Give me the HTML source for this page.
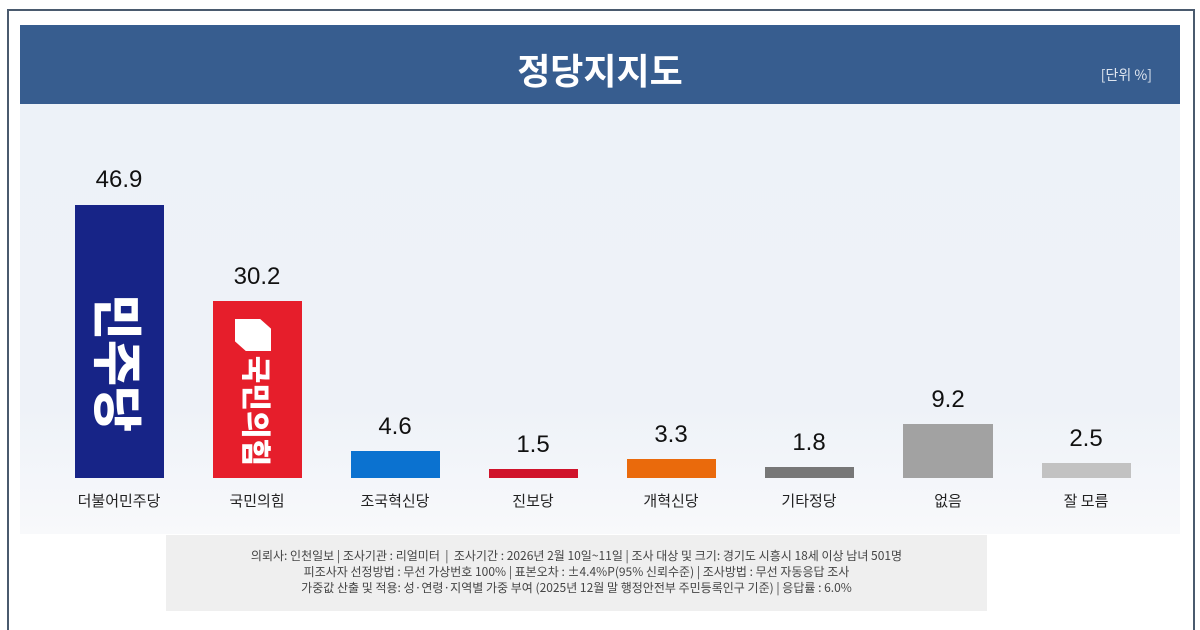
<!DOCTYPE html>
<html style="width:1200px;height:630px;overflow:hidden"><head><meta charset="utf-8"><style>
*{margin:0;padding:0;box-sizing:border-box}
body{width:1200px;height:630px;background:#fff;position:relative;overflow:hidden;font-family:"Liberation Sans","Noto Sans CJK KR",sans-serif}
.frame{position:absolute;left:7px;top:9px;width:1188px;height:621px;border:2px solid #4a5a6e;border-bottom:none;background:#fff}
.hdr{position:absolute;left:20px;top:25px;width:1160px;height:79px;background:#375d8f;color:#fff}
.hdr .t{position:absolute;left:0;right:0;top:18px;text-align:center;font-size:36px;font-weight:bold;font-family:"Noto Sans CJK KR",sans-serif}
.hdr .u{position:absolute;right:28px;top:40px;font-size:14px;color:#dfe6f0;font-family:"Noto Sans CJK KR",sans-serif}
.area{position:absolute;left:20px;top:104px;width:1160px;height:430px;background:linear-gradient(#edf2f8 0%,#eef2f8 70%,#f8f9fb 100%)}
.v{position:absolute;font-size:24px;color:#111;text-align:center;width:120px}
.c{position:absolute;top:490px;font-size:15px;color:#222;text-align:center;width:140px;font-family:"Noto Sans CJK KR",sans-serif}
.rot{position:absolute;left:50%;top:50%;transform:translate(-50%,-50%) rotate(90deg);white-space:nowrap;color:#fff;font-weight:900;font-family:"Noto Sans CJK KR",sans-serif}
.foot{position:absolute;left:166px;top:535px;width:821px;height:76px;background:#efefef;color:#444;font-size:12px;text-align:center;line-height:16px;padding-top:13px;font-family:"Noto Sans CJK KR",sans-serif}
</style></head><body>
<div class="frame"></div>
<div class="hdr"><div class="t">정당지지도</div><div class="u">[단위 %]</div></div>
<div class="area"></div>

<div style="position:absolute;left:75px;top:205px;width:89px;height:273px;background:#172487;overflow:hidden"><div class="rot" style="font-size:50px;top:58%">민주당</div></div>
<div style="position:absolute;left:213px;top:301px;width:89px;height:177px;background:#e61e2b;overflow:hidden">
<div style="position:absolute;left:22px;top:18px;width:36px;height:32px;background:#fff;clip-path:polygon(0 0,70% 0,100% 30%,100% 100%,30% 100%,0 70%)"></div>
<div class="rot" style="font-size:30px;top:62%">국민의힘</div></div>
<div style="position:absolute;left:351px;top:451px;width:89px;height:27px;background:#0b72d0"></div>
<div style="position:absolute;left:489px;top:469px;width:89px;height:9px;background:#d0132b"></div>
<div style="position:absolute;left:627px;top:459px;width:89px;height:19px;background:#ea6a0c"></div>
<div style="position:absolute;left:765px;top:467px;width:89px;height:11px;background:#777"></div>
<div style="position:absolute;left:903px;top:424px;width:90px;height:54px;background:#a2a2a2"></div>
<div style="position:absolute;left:1042px;top:463px;width:89px;height:15px;background:#c2c2c2"></div>

<div class="v" style="left:59px;top:166px">46.9</div>
<div class="v" style="left:197px;top:263px">30.2</div>
<div class="v" style="left:335px;top:413px">4.6</div>
<div class="v" style="left:473px;top:431px">1.5</div>
<div class="v" style="left:611px;top:421px">3.3</div>
<div class="v" style="left:749px;top:429px">1.8</div>
<div class="v" style="left:888px;top:386px">9.2</div>
<div class="v" style="left:1026px;top:425px">2.5</div>

<div class="c" style="left:49px">더불어민주당</div>
<div class="c" style="left:187px">국민의힘</div>
<div class="c" style="left:325px">조국혁신당</div>
<div class="c" style="left:463px">진보당</div>
<div class="c" style="left:601px">개혁신당</div>
<div class="c" style="left:739px">기타정당</div>
<div class="c" style="left:878px">없음</div>
<div class="c" style="left:1016px">잘 모름</div>

<div class="foot">의뢰사: 인천일보 | 조사기관 : 리얼미터 &nbsp;| &nbsp;조사기간 : 2026년 2월 10일~11일 | 조사 대상 및 크기: 경기도 시흥시 18세 이상 남녀 501명<br>피조사자 선정방법 : 무선 가상번호 100% | 표본오차 : ±4.4%P(95% 신뢰수준) | 조사방법 : 무선 자동응답 조사<br>가중값 산출 및 적용: 성·연령·지역별 가중 부여 (2025년 12월 말 행정안전부 주민등록인구 기준) | 응답률 : 6.0%</div>
</body></html>
